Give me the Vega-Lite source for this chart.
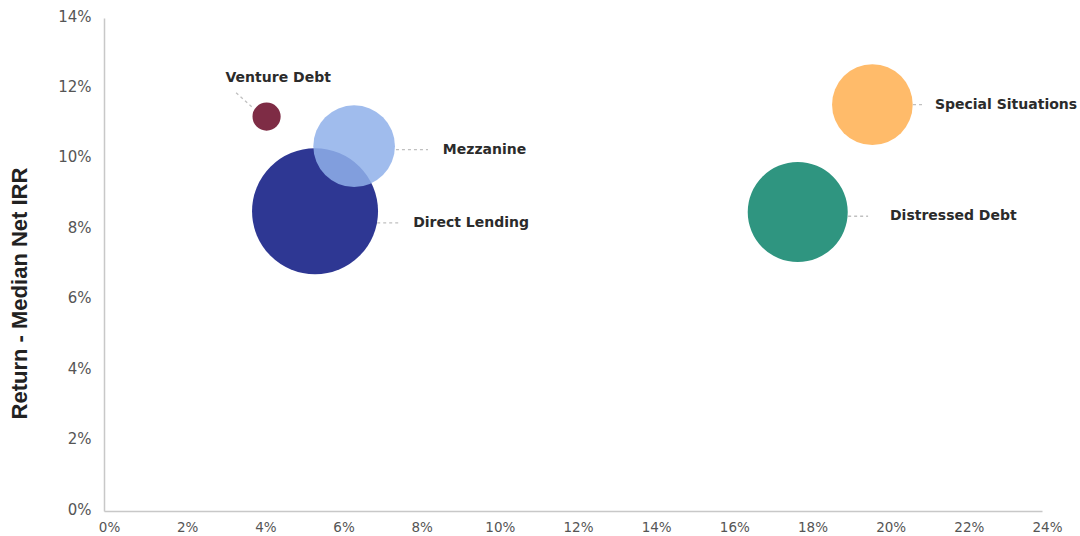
{
  "$schema": "https://vega.github.io/schema/vega-lite/v6.json",
  "width": 938,
  "height": 493,
  "padding": {"left": 104, "top": 18, "right": 38, "bottom": 25},
  "autosize": {"type": "none"},
  "background": "white",
  "config": {
    "view": {"stroke": null},
    "font": "Liberation Sans",
    "axis": {"grid": false, "ticks": false, "domainColor": "#c8c8c8", "domainWidth": 1.5, "labelColor": "#555555", "labelFont": "DejaVu Sans"}
  },
  "datasets": {
    "bubbles": [
      {"name": "Direct Lending", "irr": 8.51, "risk": 5.4, "weight": 100, "lx": 7.91, "ly": 8.18, "l1x": 6.99, "l1y": 8.18, "l2x": 7.57, "l2y": 8.18},
      {"name": "Mezzanine", "irr": 10.36, "risk": 6.4, "weight": 42, "lx": 8.67, "ly": 10.26, "l1x": 7.47, "l1y": 10.26, "l2x": 8.29, "l2y": 10.26},
      {"name": "Venture Debt", "irr": 11.2, "risk": 4.16, "weight": 5, "lx": 3.11, "ly": 12.31, "l1x": 3.38, "l1y": 11.88, "l2x": 3.81, "l2y": 11.45},
      {"name": "Distressed Debt", "irr": 8.49, "risk": 17.75, "weight": 63, "lx": 20.11, "ly": 8.37, "l1x": 19.04, "l1y": 8.37, "l2x": 19.55, "l2y": 8.37},
      {"name": "Special Situations", "irr": 11.54, "risk": 19.66, "weight": 41, "lx": 21.26, "ly": 11.54, "l1x": 20.7, "l1y": 11.54, "l2x": 20.93, "l2y": 11.54}
    ]
  },
  "data": {"name": "bubbles"},
  "layer": [
    {
      "mark": {"type": "rule", "strokeDash": [3, 3], "color": "#c0c0c0", "strokeWidth": 1.3},
      "encoding": {
        "x": {"field": "l1x", "type": "quantitative", "scale": {"domain": [0, 24]}},
        "y": {"field": "l1y", "type": "quantitative", "scale": {"domain": [0, 14]}},
        "x2": {"field": "l2x"},
        "y2": {"field": "l2y"}
      }
    },
    {
      "mark": {"type": "circle"},
      "encoding": {
        "x": {
          "field": "risk", "type": "quantitative",
          "scale": {"domain": [0, 24], "nice": false},
          "axis": {"title": null, "values": [0, 2, 4, 6, 8, 10, 12, 14, 16, 18, 20, 22, 24], "labelExpr": "datum.value + '%'", "labelPadding": 9, "labelFontSize": 13.5, "labelFlush": false, "labelOffset": 5}
        },
        "y": {
          "field": "irr", "type": "quantitative",
          "scale": {"domain": [0, 14], "nice": false},
          "axis": {"title": "Return - Median Net IRR", "titleFont": "Liberation Sans", "titleFontSize": 22, "titleFontWeight": "bold", "titleColor": "#222222", "titlePadding": 26, "titleY": 275, "values": [0, 2, 4, 6, 8, 10, 12, 14], "labelExpr": "datum.value + '%'", "labelPadding": 13, "labelFontSize": 15, "labelOffset": -2}
        },
        "size": {"field": "weight", "type": "quantitative", "scale": {"domain": [0, 100], "range": [0, 15876], "zero": true}, "legend": null},
        "color": {
          "field": "name", "type": "nominal",
          "scale": {"domain": ["Direct Lending", "Mezzanine", "Venture Debt", "Distressed Debt", "Special Situations"], "range": ["#2e3793", "#8fb0ea", "#7e2c45", "#2f9580", "#ffbb6a"]},
          "legend": null
        },
        "opacity": {"condition": {"test": "datum.name === 'Mezzanine'", "value": 0.85}, "value": 1}
      }
    },
    {
      "mark": {"type": "text", "align": "left", "baseline": "middle", "fontWeight": "bold", "fontSize": 14, "font": "DejaVu Sans", "color": "#2b2b2b"},
      "encoding": {
        "x": {"field": "lx", "type": "quantitative"},
        "y": {"field": "ly", "type": "quantitative"},
        "text": {"field": "name"}
      }
    }
  ]
}
